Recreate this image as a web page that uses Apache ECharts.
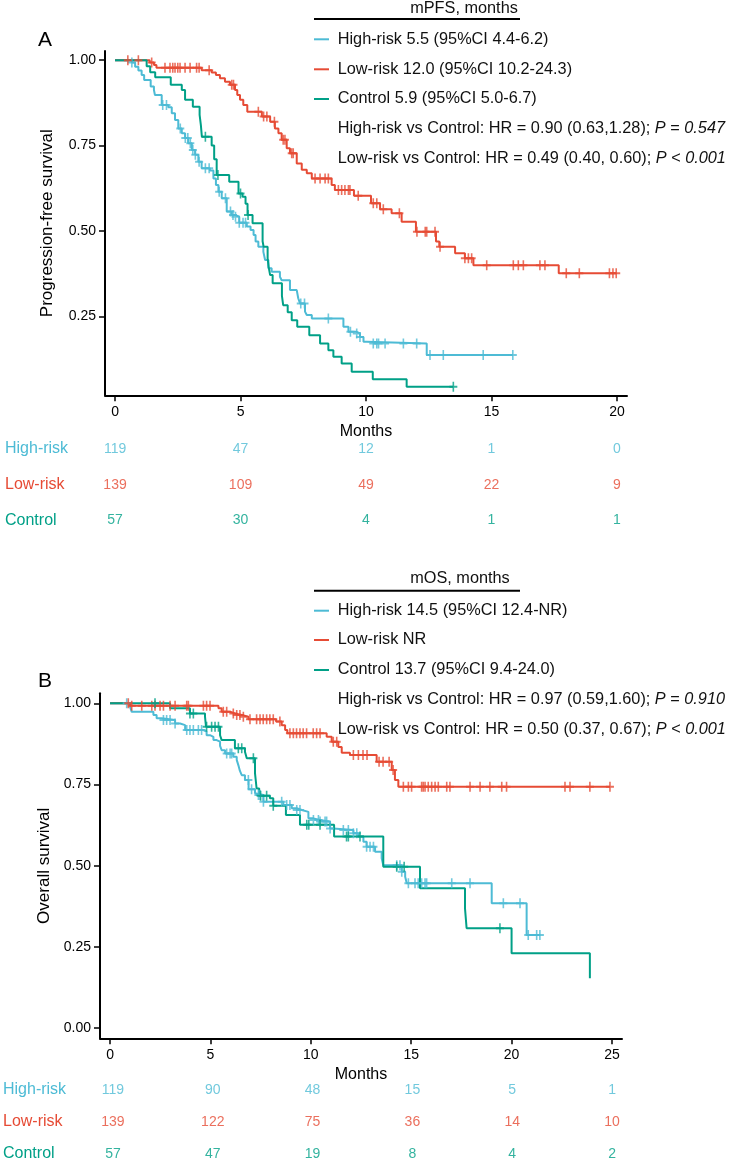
<!DOCTYPE html>
<html><head><meta charset="utf-8">
<script src="https://cdn.jsdelivr.net/npm/echarts@6/dist/echarts.min.js"></script>
<style>html,body{margin:0;padding:0;background:#fff;}#c{width:731px;height:1170px;}</style>
</head><body><div id="c"></div>
<script>
// ---------- data ----------
const groups = ['High-risk', 'Low-risk', 'Control'];
const pfsTicks = [0, 5, 10, 15, 20];
const osTicks = [0, 5, 10, 15, 20, 25];
const survTicksA = [0.25, 0.5, 0.75, 1];
const survTicksB = [0, 0.25, 0.5, 0.75, 1];

// PFS - High-risk
const pfsHighT = [0, 0.67, 0.8, 0.93, 1.06, 1.16, 1.42, 1.55, 1.59, 1.86, 2.12, 2.26, 2.39, 2.52, 2.66, 2.79, 2.92, 3.06, 3.19, 3.32, 3.45, 3.78, 3.92, 4.02, 4.12, 4.25, 4.45, 4.65, 4.78, 4.95, 5.25, 5.4, 5.52, 5.6, 5.71, 5.91, 5.98, 6.11, 6.24, 6.57, 6.64, 6.97, 7.24, 7.3, 7.37, 7.57, 7.64, 7.84, 9.1, 9.3, 9.63, 9.76, 9.9, 10.02, 12.42];
const pfsHighS = [1, 0.993, 0.981, 0.97, 0.957, 0.942, 0.923, 0.913, 0.898, 0.869, 0.862, 0.845, 0.825, 0.80, 0.786, 0.772, 0.757, 0.737, 0.723, 0.703, 0.684, 0.677, 0.654, 0.635, 0.615, 0.596, 0.557, 0.547, 0.542, 0.524, 0.513, 0.503, 0.488, 0.469, 0.454, 0.439, 0.415, 0.391, 0.381, 0.366, 0.356, 0.327, 0.322, 0.303, 0.288, 0.264, 0.254, 0.244, 0.22, 0.205, 0.2, 0.19, 0.176, 0.171, 0.137];
const pfsHighCens = [0.67, 1.9, 2.05, 2.6, 2.8, 2.9, 3.0, 3.1, 3.2, 3.35, 3.6, 3.75, 4.15, 4.4, 4.6, 4.7, 4.8, 4.95, 5.1, 5.2, 7.4, 7.55, 8.5, 9.38, 9.63, 9.76, 10.29, 10.43, 10.5, 10.76, 11.49, 12.02, 12.55, 13.08, 14.67, 15.85];

// PFS - Low-risk
const pfsLowT = [0, 1.38, 1.55, 1.65, 3.45, 3.85, 4.02, 4.18, 4.38, 4.58, 4.78, 4.87, 4.98, 5.11, 5.27, 5.85, 6.18, 6.37, 6.51, 6.64, 6.84, 6.97, 7.24, 7.44, 7.64, 7.84, 8.63, 8.76, 9.52, 10.2, 10.56, 11.02, 11.42, 11.99, 12.79, 12.92, 13.55, 13.94, 14.28, 17.68];
const pfsLowS = [1, 0.993, 0.986, 0.978, 0.971, 0.964, 0.957, 0.947, 0.937, 0.928, 0.913, 0.898, 0.884, 0.869, 0.849, 0.835, 0.82, 0.8, 0.786, 0.767, 0.742, 0.728, 0.698, 0.679, 0.669, 0.654, 0.635, 0.62, 0.603, 0.581, 0.564, 0.552, 0.527, 0.498, 0.469, 0.454, 0.435, 0.42, 0.4, 0.376];
const pfsLowCens = [0.51, 0.93, 1.46, 1.99, 2.19, 2.3, 2.39, 2.5, 2.59, 2.79, 2.99, 3.25, 3.35, 3.75, 4.65, 4.72, 5.71, 5.92, 6.05, 6.35, 6.7, 6.77, 7.04, 7.1, 7.97, 8.17, 8.37, 8.5, 8.9, 9.03, 9.16, 9.3, 9.36, 9.69, 10.29, 10.43, 10.69, 11.33, 12.03, 12.36, 12.42, 12.75, 12.95, 13.94, 14.08, 14.21, 14.81, 15.87, 16.07, 16.27, 16.93, 17.13, 17.98, 18.5, 19.7, 19.84, 19.97];

// PFS - Control
const pfsCtrlT = [0, 1.26, 1.4, 1.6, 2.22, 2.66, 2.79, 3.1, 3.37, 3.42, 3.46, 3.85, 3.95, 4.05, 4.55, 4.92, 5.08, 5.2, 5.28, 5.48, 5.88, 5.92, 6.08, 6.12, 6.18, 6.28, 6.65, 6.7, 6.88, 7.04, 7.26, 7.74, 8.17, 8.5, 8.7, 9.03, 9.43, 10.27, 11.62];
const pfsCtrlS = [1, 0.982, 0.965, 0.95, 0.928, 0.913, 0.884, 0.864, 0.84, 0.81, 0.776, 0.75, 0.71, 0.664, 0.644, 0.61, 0.6, 0.58, 0.547, 0.523, 0.47, 0.454, 0.42, 0.395, 0.371, 0.347, 0.31, 0.283, 0.262, 0.239, 0.22, 0.195, 0.171, 0.151, 0.132, 0.112, 0.088, 0.066, 0.044];
const pfsCtrlCens = [3.6, 4.1, 5.0, 5.3, 13.48];

// OS - High-risk
const osHighT = [0, 0.995, 1.08, 2.16, 2.32, 2.57, 3.24, 3.49, 3.74, 4.65, 4.81, 4.98, 5.15, 5.31, 5.48, 5.56, 5.73, 6.14, 6.31, 6.39, 6.47, 6.56, 6.72, 6.9, 7.22, 7.3, 7.64, 8.63, 9.05, 9.3, 9.55, 9.88, 10.13, 10.46, 10.96, 11.12, 12.12, 12.37, 12.62, 12.78, 13.2, 13.53, 13.61, 14.53, 14.7, 14.78, 19.01, 20.75];
const osHighS = [1, 0.99, 0.974, 0.964, 0.954, 0.949, 0.938, 0.933, 0.918, 0.913, 0.902, 0.897, 0.887, 0.882, 0.869, 0.856, 0.846, 0.836, 0.826, 0.81, 0.792, 0.779, 0.764, 0.736, 0.723, 0.718, 0.697, 0.687, 0.677, 0.672, 0.666, 0.646, 0.641, 0.636, 0.615, 0.61, 0.6, 0.59, 0.574, 0.559, 0.543, 0.523, 0.502, 0.482, 0.466, 0.446, 0.385, 0.287];
const osHighCens = [0.83, 2.66, 2.82, 2.99, 3.24, 3.82, 3.98, 4.15, 4.4, 4.56, 5.81, 5.98, 6.06, 6.89, 7.05, 7.39, 7.47, 7.64, 8.55, 8.8, 8.96, 9.3, 9.46, 10.13, 10.38, 10.46, 10.71, 10.79, 10.96, 11.62, 11.87, 12.12, 12.29, 12.78, 12.95, 13.12, 14.28, 14.44, 14.53, 14.86, 15.19, 15.35, 15.52, 15.69, 15.77, 17.02, 17.93, 19.59, 20.42, 20.83, 21.25, 21.41];

// OS - Low-risk
const osLowT = [0, 1.0, 5.4, 5.56, 5.98, 6.22, 6.56, 6.89, 8.27, 8.55, 8.72, 8.83, 10.79, 11.04, 11.37, 11.54, 11.95, 13.28, 14.03, 14.19, 14.36];
const osLowS = [1, 0.993, 0.985, 0.974, 0.969, 0.964, 0.959, 0.951, 0.944, 0.933, 0.918, 0.908, 0.897, 0.882, 0.866, 0.848, 0.841, 0.82, 0.795, 0.764, 0.743];
const osLowCens = [0.91, 1.08, 1.58, 2.08, 2.24, 2.49, 2.66, 2.99, 3.24, 3.82, 3.9, 4.65, 4.81, 4.98, 5.64, 5.81, 6.14, 6.31, 6.47, 6.64, 6.97, 7.3, 7.47, 7.63, 7.8, 7.96, 8.13, 8.46, 8.96, 9.13, 9.29, 9.46, 9.62, 9.79, 10.12, 10.29, 10.46, 11.12, 11.29, 12.12, 12.37, 12.6, 12.8, 13.4, 13.6, 13.9, 14.1, 14.61, 14.86, 15.02, 15.52, 15.6, 15.69, 15.85, 16.02, 16.19, 16.35, 16.77, 16.93, 17.93, 18.43, 18.92, 19.51, 19.75, 22.66, 22.91, 23.9, 24.9];

// OS - Control
const osCtrlT = [0, 2.99, 3.98, 4.73, 4.78, 5.48, 5.56, 6.22, 6.72, 6.81, 7.22, 7.3, 7.43, 7.96, 8.13, 8.76, 9.46, 11.16, 13.61, 15.44, 17.68, 17.76, 20.0, 23.9];
const osCtrlS = [1, 0.985, 0.969, 0.959, 0.928, 0.902, 0.887, 0.862, 0.851, 0.831, 0.785, 0.738, 0.716, 0.708, 0.685, 0.656, 0.626, 0.59, 0.497, 0.431, 0.369, 0.308, 0.231, 0.154];
const osCtrlCens = [2.24, 3.98, 4.15, 4.81, 5.06, 5.23, 5.4, 6.39, 6.56, 7.14, 7.5, 7.8, 8.13, 9.8, 9.9, 10.46, 11.78, 11.87, 12.45, 14.28, 14.65, 19.42];

// numbers at risk
const pfsRiskHigh = [119, 47, 12, 1, 0];
const pfsRiskLow = [139, 109, 49, 22, 9];
const pfsRiskCtrl = [57, 30, 4, 1, 1];
const osRiskHigh = [119, 90, 48, 15, 5, 1];
const osRiskLow = [139, 122, 75, 36, 14, 10];
const osRiskCtrl = [57, 47, 19, 8, 4, 2];

// legend texts
const pfsLegendTitle = 'mPFS, months';
const pfsLegendItems = ['High-risk 5.5 (95%CI 4.4-6.2)', 'Low-risk 12.0 (95%CI 10.2-24.3)', 'Control 5.9 (95%CI 5.0-6.7)'];
const pfsHRText = [['High-risk vs Control: HR = 0.90 (0.63,1.28); ', 'P', ' = ', '0.547'], ['Low-risk vs Control: HR = 0.49 (0.40, 0.60); ', 'P', ' < ', '0.001']];
const osLegendTitle = 'mOS, months';
const osLegendItems = ['High-risk 14.5 (95%CI 12.4-NR)', 'Low-risk NR', 'Control 13.7 (95%CI 9.4-24.0)'];
const osHRText = [['High-risk vs Control: HR = 0.97 (0.59,1.60); ', 'P', ' = ', '0.910'], ['Low-risk vs Control: HR = 0.50 (0.37, 0.67); ', 'P', ' < ', '0.001']];

// ---------- styles ----------
const COLORS = ['#4DBBD5', '#E64B35', '#00A087'];
const FONT = '"Liberation Sans", Arial, Helvetica, sans-serif';
const PLUS = 'path://M4,0H6V4H10V6H6V10H4V6H0V4H4Z';
const LEG = 16.3;

function stepData(T, S, C) {
  const d = T.map((t, i) => [t, S[i]]);
  const last = T[T.length - 1];
  const end = Math.max(last, ...C);
  if (end > last) d.push([end, S[S.length - 1]]);
  return d;
}
function survAt(T, S, t) {
  let v = S[0];
  for (let i = 0; i < T.length; i++) { if (T[i] <= t) v = S[i]; }
  return v;
}
function censData(T, S, C) { return C.map(t => [t, survAt(T, S, t)]); }

function curveSeries(T, S, C, color, xi, yi) {
  return [{
    type: 'line', xAxisIndex: xi, yAxisIndex: yi, step: 'end', data: stepData(T, S, C),
    showSymbol: false, symbol: 'none', lineStyle: { color: color, width: 2 }, itemStyle: { color: color },
    silent: true, z: 3
  }, {
    type: 'scatter', xAxisIndex: xi, yAxisIndex: yi, data: censData(T, S, C),
    symbol: PLUS, symbolSize: [8, 10], itemStyle: { color: color }, silent: true, z: 4
  }];
}
function riskSeries(ticks, counts, row, color, xi, yi) {
  return {
    type: 'scatter', xAxisIndex: xi, yAxisIndex: yi,
    data: ticks.map((t, i) => [t, row, counts[i]]),
    symbolSize: 1, itemStyle: { color: 'rgba(0,0,0,0)' }, silent: true,
    label: { show: true, position: 'inside', formatter: p => String(p.value[2]), color: color, fontSize: 14, fontFamily: FONT }
  };
}
function mainX(gi, min, max, ticks) {
  return {
    gridIndex: gi, type: 'value', min: min, max: max,
    axisLine: { show: true, onZero: false, lineStyle: { color: '#000', width: 2 } },
    axisTick: { show: true, length: 6, customValues: ticks, lineStyle: { color: '#000', width: 1.5 } },
    axisLabel: { customValues: ticks, color: '#000', fontSize: 14, fontFamily: FONT, margin: 10 },
    splitLine: { show: false },
    name: 'Months', nameLocation: 'middle', nameGap: 28,
    nameTextStyle: { color: '#000', fontSize: 16, fontFamily: FONT }
  };
}
function mainY(gi, min, max, ticks, name, gap) {
  return {
    gridIndex: gi, type: 'value', min: min, max: max,
    axisLine: { show: true, onZero: false, lineStyle: { color: '#000', width: 2 } },
    axisTick: { show: true, length: 6, customValues: ticks, lineStyle: { color: '#000', width: 1.5 } },
    axisLabel: { customValues: ticks, color: '#000', fontSize: 14, fontFamily: FONT, margin: 9, formatter: v => v.toFixed(2) },
    splitLine: { show: false },
    name: name, nameLocation: 'middle', nameGap: gap,
    nameTextStyle: { color: '#000', fontSize: 17, fontFamily: FONT }
  };
}
function riskX(gi, min, max) { return { gridIndex: gi, type: 'value', min: min, max: max, show: false }; }
function riskY(gi) {
  const keys = ['h', 'l', 'c'];
  const rich = {};
  keys.forEach((k, i) => { rich[k] = { color: COLORS[i], fontSize: 16, fontFamily: FONT }; });
  return {
    gridIndex: gi, type: 'category', data: groups, inverse: true,
    axisLine: { show: false }, axisTick: { show: false }, splitLine: { show: false },
    axisLabel: { align: 'left', margin: 100, formatter: (v) => '{' + keys[groups.indexOf(v)] + '|' + v + '}', rich: rich }
  };
}

function txtStyle(text, size, align) {
  return { text: text, font: size + 'px ' + FONT, fill: '#111', align: align, verticalAlign: 'middle', textAlign: align, textVerticalAlign: 'middle' };
}
function legendGraphics(x0, lineY, titleX, titleY, itemYs, title, items, hr) {
  const g = [];
  g.push({ type: 'text', x: titleX, y: titleY, style: txtStyle(title, LEG, 'center') });
  g.push({ type: 'line', shape: { x1: 314, y1: lineY, x2: 520, y2: lineY }, style: { stroke: '#000', lineWidth: 2 } });
  items.forEach((t, i) => {
    g.push({ type: 'line', shape: { x1: 314, y1: itemYs[i], x2: 329, y2: itemYs[i] }, style: { stroke: COLORS[i], lineWidth: 2 } });
    g.push({ type: 'text', x: x0, y: itemYs[i], style: txtStyle(t, LEG, 'left') });
  });
  hr.forEach((parts, j) => {
    const st = txtStyle('{n|' + parts[0] + '}{i|' + parts[1] + '}{n|' + parts[2] + '}{i|' + parts[3] + '}', LEG, 'left');
    st.rich = { n: { fontSize: LEG, fontFamily: FONT, fill: '#111' }, i: { fontSize: LEG, fontFamily: FONT, fontStyle: 'italic', fill: '#111' } };
    g.push({ type: 'text', x: x0, y: itemYs[3 + j], style: st });
  });
  return g;
}

const graphics = [].concat(
  [{ type: 'text', x: 45, y: 40, style: Object.assign(txtStyle('A', 21, 'center'), { fill: '#000' }) },
   { type: 'text', x: 45, y: 681.5, style: Object.assign(txtStyle('B', 21, 'center'), { fill: '#000' }) }],
  legendGraphics(337.7, 19, 464, 8.5, [39.3, 69.3, 99, 128.3, 158.3], pfsLegendTitle, pfsLegendItems, pfsHRText),
  legendGraphics(337.7, 590.7, 460, 579, [610.7, 640, 670, 699.3, 729.3], osLegendTitle, osLegendItems, osHRText)
);

const series = [].concat(
  curveSeries(pfsHighT, pfsHighS, pfsHighCens, COLORS[0], 0, 0),
  curveSeries(pfsLowT, pfsLowS, pfsLowCens, COLORS[1], 0, 0),
  curveSeries(pfsCtrlT, pfsCtrlS, pfsCtrlCens, COLORS[2], 0, 0),
  [riskSeries(pfsTicks, pfsRiskHigh, groups[0], COLORS[0], 1, 1),
   riskSeries(pfsTicks, pfsRiskLow, groups[1], COLORS[1], 1, 1),
   riskSeries(pfsTicks, pfsRiskCtrl, groups[2], COLORS[2], 1, 1)],
  curveSeries(osHighT, osHighS, osHighCens, COLORS[0], 2, 2),
  curveSeries(osLowT, osLowS, osLowCens, COLORS[1], 2, 2),
  curveSeries(osCtrlT, osCtrlS, osCtrlCens, COLORS[2], 2, 2),
  [riskSeries(osTicks, osRiskHigh, groups[0], COLORS[0], 3, 3),
   riskSeries(osTicks, osRiskLow, groups[1], COLORS[1], 3, 3),
   riskSeries(osTicks, osRiskCtrl, groups[2], COLORS[2], 3, 3)]
);

const chart = echarts.init(document.getElementById('c'), null, { renderer: 'canvas', width: 731, height: 1170 });
chart.setOption({
  animation: false,
  backgroundColor: '#fff',
  textStyle: { fontFamily: FONT },
  grid: [
    { left: 105, top: 51, width: 522, height: 344.3 },
    { left: 105, top: 431.1, width: 522, height: 107.4 },
    { left: 100, top: 693.3, width: 522, height: 345 },
    { left: 100, top: 1073.8, width: 522, height: 107.4 }
  ],
  xAxis: [mainX(0, -0.4, 20.4, pfsTicks), riskX(1, -0.4, 20.4), mainX(2, -0.5, 25.5, osTicks), riskX(3, -0.5, 25.5)],
  yAxis: [mainY(0, 0.019, 1.027, survTicksA, 'Progression-free survival', 49), riskY(1),
          mainY(2, -0.031, 1.031, survTicksB, 'Overall survival', 44), riskY(3)],
  series: series,
  graphic: graphics
});
</script></body></html>
